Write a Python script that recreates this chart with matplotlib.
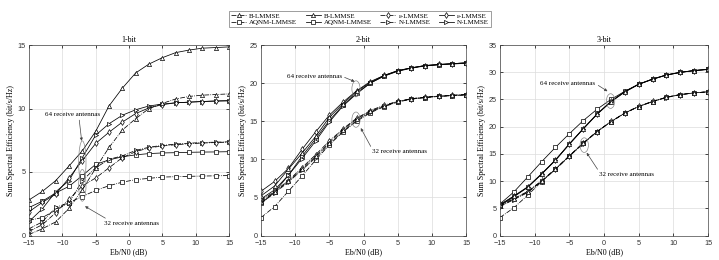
import matplotlib
matplotlib.use("Agg")
import matplotlib.pyplot as plt
from matplotlib.patches import Ellipse
import numpy as np

snr = [-15, -13, -11, -9, -7, -5, -3, -1, 1, 3, 5, 7, 9, 11, 13, 15]
titles = ["1-bit", "2-bit", "3-bit"]
ylims = [15, 25, 35]

# ---- 1-bit ----
b1_B32 = [0.08, 0.53, 1.07, 2.13, 3.6, 5.3, 6.93, 8.3, 9.2, 10.0, 10.4, 10.75, 10.95, 11.05, 11.1, 11.15]
b1_B64 = [2.8, 3.47, 4.32, 5.47, 6.67, 8.2, 10.2, 11.6, 12.8, 13.5, 14.0, 14.4, 14.6, 14.75, 14.8, 14.85]
b1_E32 = [0.32, 0.85, 1.79, 2.85, 3.9, 4.53, 5.33, 6.13, 6.6, 6.9, 7.05, 7.15, 7.22, 7.28, 7.32, 7.35]
b1_E64 = [1.87, 2.61, 3.25, 4.53, 5.9, 7.25, 8.13, 8.93, 9.6, 10.05, 10.3, 10.45, 10.5, 10.55, 10.58, 10.6]
b1_A32 = [1.2, 1.41, 2.0, 2.59, 3.07, 3.55, 3.92, 4.2, 4.4, 4.5, 4.6, 4.63, 4.66, 4.68, 4.7, 4.72]
b1_A64 = [2.2, 2.7, 3.35, 3.87, 4.72, 5.6, 5.95, 6.2, 6.35, 6.45, 6.5, 6.52, 6.55, 6.57, 6.58, 6.6]
b1_N32 = [0.53, 1.07, 2.21, 2.59, 4.32, 5.33, 6.0, 6.27, 6.7, 6.95, 7.1, 7.2, 7.27, 7.32, 7.35, 7.38]
b1_N64 = [1.1, 2.1, 3.44, 4.32, 6.13, 7.9, 8.8, 9.47, 9.9, 10.2, 10.35, 10.45, 10.5, 10.55, 10.6, 10.62]

# ---- 2-bit ----
b2_B32 = [4.4, 5.7, 7.1, 8.7, 10.4, 12.2, 13.9, 15.3, 16.3, 17.0, 17.6, 17.95, 18.15, 18.3, 18.4, 18.5]
b2_B64 = [5.2, 6.5, 8.7, 10.8, 13.0, 15.5, 17.3, 18.9, 20.1, 21.0, 21.6, 22.0, 22.3, 22.45, 22.55, 22.65]
b2_E32 = [4.6, 5.8, 7.2, 8.9, 10.6, 12.4, 14.0, 15.4, 16.4, 17.1, 17.6, 17.95, 18.15, 18.3, 18.4, 18.5]
b2_E64 = [5.8, 7.1, 8.8, 11.3, 13.6, 15.8, 17.5, 19.0, 20.2, 21.0, 21.65, 22.0, 22.3, 22.45, 22.55, 22.65]
b2_A32 = [2.35, 3.8, 5.8, 7.8, 9.9, 11.9, 13.6, 15.0, 16.1, 16.9, 17.5, 17.9, 18.1, 18.25, 18.35, 18.45]
b2_A64 = [4.2, 5.7, 7.9, 10.4, 12.7, 15.1, 17.1, 18.7, 20.0, 20.9, 21.55, 21.95, 22.25, 22.4, 22.5, 22.6]
b2_N32 = [4.2, 5.6, 7.0, 8.6, 10.2, 12.0, 13.7, 15.1, 16.2, 17.0, 17.55, 17.9, 18.1, 18.25, 18.35, 18.45]
b2_N64 = [4.8, 6.0, 7.9, 10.1, 12.4, 14.9, 17.0, 18.6, 20.0, 20.95, 21.6, 22.0, 22.3, 22.4, 22.55, 22.65]

# ---- 3-bit ----
b3_B32 = [5.4, 6.7, 8.0, 10.0, 12.2, 14.6, 16.95, 19.1, 20.9, 22.5, 23.7, 24.6, 25.4, 25.9, 26.2, 26.4]
b3_B64 = [5.6, 7.2, 8.9, 11.3, 13.85, 16.8, 19.6, 22.3, 24.6, 26.4, 27.8, 28.75, 29.5, 30.0, 30.3, 30.55]
b3_E32 = [5.5, 6.8, 8.1, 10.05, 12.25, 14.65, 17.0, 19.1, 20.95, 22.5, 23.75, 24.65, 25.4, 25.9, 26.2, 26.4]
b3_E64 = [5.7, 7.25, 8.95, 11.35, 13.9, 16.85, 19.65, 22.35, 24.65, 26.45, 27.8, 28.75, 29.5, 30.0, 30.3, 30.55]
b3_A32 = [3.3, 5.1, 7.4, 9.9, 12.2, 14.6, 16.95, 19.1, 20.9, 22.5, 23.7, 24.6, 25.4, 25.9, 26.2, 26.4]
b3_A64 = [5.8, 8.0, 10.75, 13.55, 16.2, 18.7, 21.1, 23.2, 25.0, 26.5, 27.8, 28.7, 29.5, 29.95, 30.3, 30.5]
b3_N32 = [5.3, 6.6, 7.9, 9.95, 12.15, 14.55, 16.9, 19.05, 20.9, 22.45, 23.7, 24.6, 25.35, 25.85, 26.2, 26.4]
b3_N64 = [5.5, 7.1, 8.85, 11.25, 13.8, 16.75, 19.55, 22.25, 24.55, 26.35, 27.75, 28.7, 29.45, 29.95, 30.3, 30.5]

panels = [
    dict(B32=b1_B32, B64=b1_B64, E32=b1_E32, E64=b1_E64, A32=b1_A32, A64=b1_A64, N32=b1_N32, N64=b1_N64),
    dict(B32=b2_B32, B64=b2_B64, E32=b2_E32, E64=b2_E64, A32=b2_A32, A64=b2_A64, N32=b2_N32, N64=b2_N64),
    dict(B32=b3_B32, B64=b3_B64, E32=b3_E32, E64=b3_E64, A32=b3_A32, A64=b3_A64, N32=b3_N32, N64=b3_N64),
]

# legend order (column-major fill for 2 rows x 4 cols)
legend_keys = ["B32", "A32", "B64", "A64", "E32", "N32", "E64", "N64"]
labels = {"B": "B-LMMSE", "E": "ε-LMMSE", "A": "AQNM-LMMSE", "N": "N-LMMSE"}
markers = {"B": "^", "E": "d", "A": "s", "N": ">"}

# annotations: (text, text_xy, arrow_tip, ellipse center, ellipse w, ellipse h, relpos)
annots = [
    [("64 receive antennas", (-8.5, 9.5), (-7.1, 7.45), (-7.0, 5.75), 1.1, 3.4, (0.62, 0.0)),
     ("32 receive antennas", (0.3, 0.95), (-6.6, 2.3), (-7.0, 3.95), 1.1, 2.5, (0.12, 1.0))],
    [("64 receive antennas", (-7.2, 20.9), (-1.3, 20.2), (-1.1, 19.25), 1.2, 2.1, (1.0, 0.5)),
     ("32 receive antennas", (5.3, 11.0), (-0.4, 14.1), (-1.1, 15.2), 1.2, 2.0, (0.0, 1.0))],
    [("64 receive antennas", (-5.2, 27.9), (0.5, 26.5), (0.95, 24.7), 1.2, 2.7, (1.0, 0.5)),
     ("32 receive antennas", (3.3, 11.2), (-2.5, 15.2), (-2.85, 16.6), 1.2, 2.7, (0.0, 1.0))],
]

serif = ["Liberation Serif", "DejaVu Serif"]
sans = ["Liberation Sans", "DejaVu Sans"]

fig = plt.figure(figsize=(7.19, 2.6), dpi=100)
lefts = [29 / 719, 261 / 719, 500 / 719]
widths = [200 / 719, 205 / 719, 208 / 719]
bottom = 1 - 235.5 / 260
height = 190.5 / 260

handles = {}
for i in range(3):
    ax = fig.add_axes([lefts[i], bottom, widths[i], height])
    d = panels[i]
    for key in ["A32", "A64", "N32", "N64", "E32", "E64", "B32", "B64"]:
        alg = key[0]
        ls = "-." if key.endswith("32") else "-"
        h, = ax.plot(snr, d[key], linestyle=ls, color="black", lw=0.55,
                     marker=markers[alg], ms=3.0, mfc="white", mec="black", mew=0.5,
                     label=labels[alg])
        if i == 0:
            handles[key] = h
    ax.set_xlim(-15, 15)
    ax.set_ylim(0, ylims[i])
    ax.set_xticks([-15, -10, -5, 0, 5, 10, 15])
    ax.set_yticks(np.arange(0, ylims[i] + 1, 5))
    ax.grid(True, color="#dcdcdc", lw=0.5)
    ax.set_axisbelow(True)
    ax.tick_params(direction="in", length=2, width=0.5, labelsize=5.2,
                   top=True, right=True)
    ax.tick_params(axis="x", pad=3)
    ax.tick_params(axis="y", pad=2.5)
    for lab in ax.get_xticklabels() + ax.get_yticklabels():
        lab.set_family(sans)
        lab.set_color("#333333")
    for s in ax.spines.values():
        s.set_linewidth(0.5)
        s.set_color("#444444")
    ax.set_title(titles[i], fontsize=5.8, family=serif, pad=2)
    ax.set_xlabel("Eb/N0 (dB)", fontsize=5.8, family=serif, labelpad=1)
    ax.set_ylabel("Sum Spectral Efficiency (bit/s/Hz)", fontsize=5.8, family=serif, labelpad=2)
    for (txt, txy, tip, ec, ew, eh, rp) in annots[i]:
        ax.add_patch(Ellipse(ec, ew, eh, fill=False, ec="#888888", lw=0.5, zorder=5))
        ax.annotate(txt, xy=tip, xytext=txy, fontsize=5.0, family=serif,
                    ha="center", va="center",
                    arrowprops=dict(arrowstyle="-|>", color="#444444", lw=0.5,
                                    mutation_scale=4, shrinkA=0, shrinkB=0,
                                    relpos=rp),
                    zorder=6)

leg = fig.legend([handles[k] for k in legend_keys],
                 [labels[k[0]] for k in legend_keys],
                 loc="center", bbox_to_anchor=(360 / 719, 1 - 19 / 260), ncol=4,
                 prop={"family": serif, "size": 5.0}, frameon=True, fancybox=False,
                 edgecolor="#555555", handlelength=2.2, handletextpad=0.4,
                 columnspacing=1.2, labelspacing=0.1, borderpad=0.3)
leg.get_frame().set_linewidth(0.5)

fig.savefig("out.png", dpi=100)
